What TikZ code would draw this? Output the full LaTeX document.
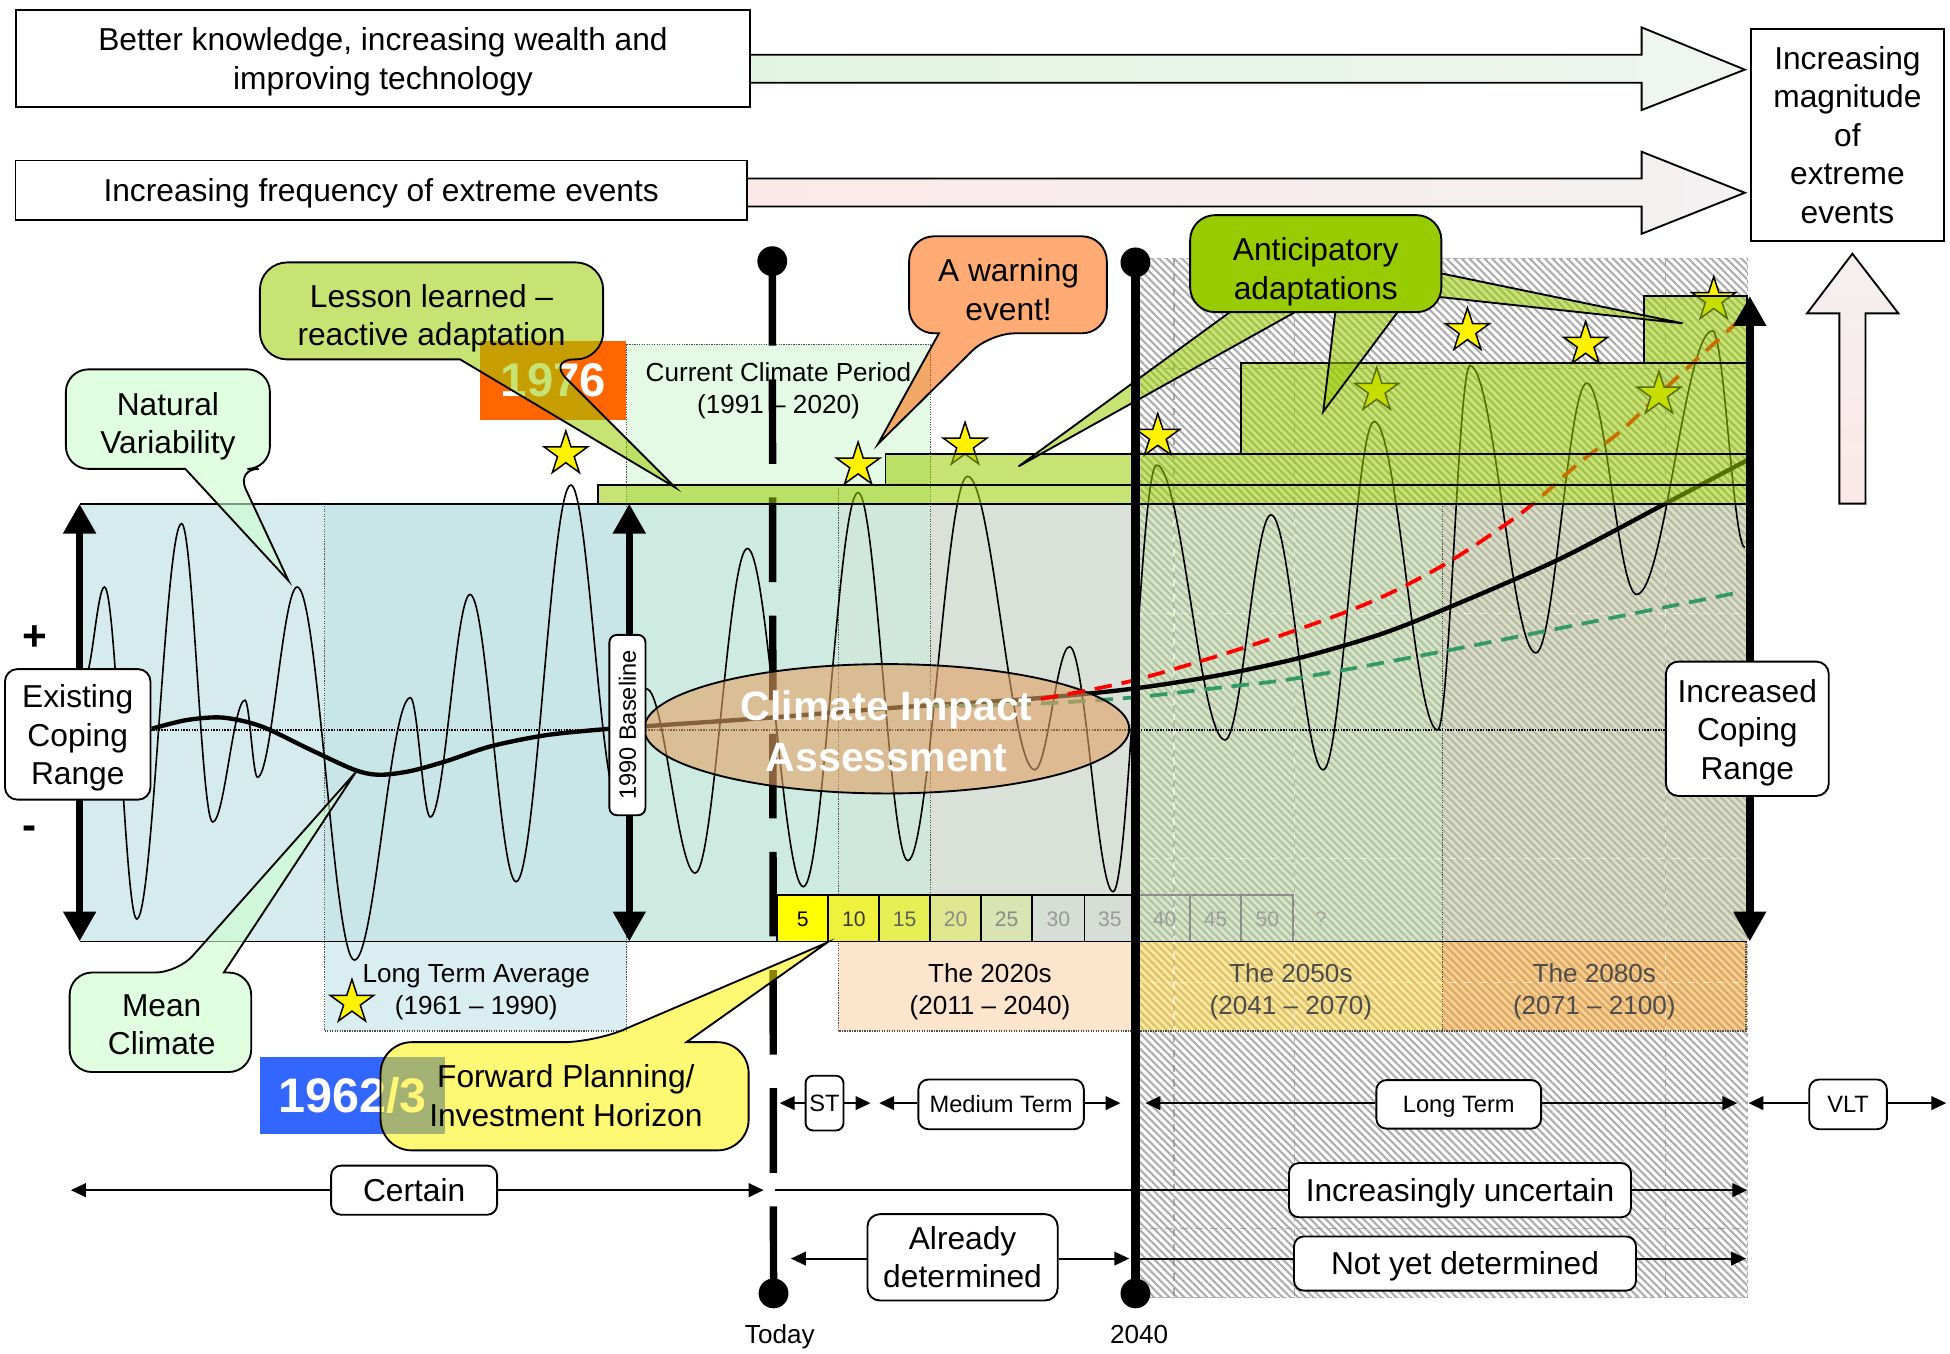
\documentclass[tikz,border=0pt]{standalone}
\usepackage{fontspec}
\setmainfont{Liberation Sans}
\usetikzlibrary{arrows.meta,shapes.geometric,patterns.meta}
\definecolor{grn}{HTML}{99CC00}
\definecolor{lgrn}{HTML}{CCFFCC}
\definecolor{org}{HTML}{FF6600}
\definecolor{blu}{HTML}{3366FF}
\definecolor{chA}{HTML}{D6EBEE}
\definecolor{chB}{HTML}{C8E5E8}
\definecolor{chC}{HTML}{CDEBE1}
\definecolor{chD}{HTML}{D0E8DC}
\definecolor{chE}{HTML}{D9E1D9}
\definecolor{chF}{HTML}{B6D29B}
\definecolor{chG}{HTML}{BCC39B}
\definecolor{cctop}{HTML}{E4FAE4}
\definecolor{ltab}{HTML}{DAEEF1}
\definecolor{cTwenty}{HTML}{FDE4CC}
\definecolor{cFifty}{HTML}{FBD240}
\definecolor{cEighty}{HTML}{F6A42E}
\definecolor{ellc}{HTML}{E1A064}
\definecolor{scgreen}{HTML}{339966}
\definecolor{hatchc}{HTML}{ADADAD}
\definecolor{arrAa}{HTML}{E2F5E2}
\definecolor{arrAb}{HTML}{F0F5F0}
\definecolor{arrBa}{HTML}{FBE9E9}
\definecolor{arrBb}{HTML}{F3F1F1}
\definecolor{upT}{HTML}{F5F0F0}
\definecolor{upB}{HTML}{FBE8E8}
\newcommand\mystrut{\rule[-0.23em]{0pt}{1.18em}}
\newcommand\topstrut{\rule{0pt}{0.95em}}
\tikzset{
  txtstrut/.style={execute at begin node=\mystrut, execute at end node=\mystrut},
  bigtxt/.style={font=\fontsize{25.5}{31}\selectfont, align=center, txtstrut},
  bigml/.style={font=\fontsize{25.5}{31}\selectfont, align=center},
  midml/.style={font=\fontsize{21}{26}\selectfont, align=center},
  midtxt/.style={font=\fontsize{21}{26}\selectfont, align=center, txtstrut},
  smalltxt/.style={font=\fontsize{19}{23}\selectfont, align=center, txtstrut},
  numtxt/.style={font=\fontsize{17}{20}\selectfont, txtstrut},
  sqbox/.style={draw, line width=1.5pt, fill=white, inner sep=0pt},
  lbox/.style={draw, line width=1.5pt, fill=white, rounded corners=10pt, inner sep=0pt},
  tl/.style={line width=1.5pt, -{Triangle[length=12pt,width=11pt]}},
  cbox/.style={draw, line width=1.5pt, fill opacity=0.55},
  adbar/.style={draw, line width=1.5pt, fill=grn, fill opacity=0.55},
  ystar/.style={star, star points=5, star point ratio=2.618, minimum size=37pt, inner sep=0pt, draw, line width=1.2pt, fill=yellow},
  bigarrow/.style={line width=6pt, {Triangle[length=24pt,width=25pt]}-{Triangle[length=24pt,width=25pt]}},
  dotl/.style={densely dotted, line width=1pt, black!70},
  gridl/.style={black!45, dash pattern=on 6pt off 6pt, line width=0.9pt, opacity=0.7},
  gridw/.style={white, dash pattern=on 6pt off 6pt, line width=0.9pt, opacity=0.6},
  ovl/.style={fill opacity=0.55},
  ball/.style={circle, fill=black, minimum size=24pt, inner sep=0pt},
}
\begin{document}
\begin{tikzpicture}[x=1pt,y=-1pt]
\useasboundingbox (0,0) rectangle (1568,1088);

% ---------- region fills (unhatched part)
\fill[cctop] (504,277) rectangle (748,405);
\fill[chA] (64,405) rectangle (261,757);
\fill[chB] (261,405) rectangle (504,757);
\fill[chC] (504,405) rectangle (674,757);
\fill[chD] (674,405) rectangle (748,757);
\fill[chE] (748,405) rectangle (913,757);
\fill[ltab] (261,757) rectangle (504,829);
\fill[cTwenty] (674,757) rectangle (913,829);

% ---------- hatch of the uncertain future
\fill[pattern={Lines[angle=-45,distance=4.3pt,line width=1.7pt]}, pattern color=hatchc] (913,208) rectangle (1405,1043);
\foreach \gx in {944,1041,1339} \draw[gridl] (\gx,208) -- (\gx,1043);
\foreach \gy in {296,988} \draw[gridl] (913,\gy) -- (1405,\gy);
% translucent fills over the hatch
\fill[chF, ovl] (913,405) rectangle (1160,757);
\fill[chG, ovl] (1160,405) rectangle (1405,757);
\fill[cFifty, ovl] (913,757) rectangle (1160,829);
\fill[cEighty, ovl] (1160,757) rectangle (1405,829);
\foreach \gx in {944,1041,1339} \draw[gridw] (\gx,405) -- (\gx,829);
\foreach \gy in {493,690,790} \draw[gridw] (913,\gy) -- (1405,\gy);
\draw[hatchc, dashed, line width=1pt] (913,208) rectangle (1405,1043);

% ---------- period texts
\node[midml] (lta) at (383,795) {\topstrut Long Term Average\\(1961 – 1990)};
\node[midml] (ccp) at (626,312) {\topstrut Current Climate Period\\(1991 – 2020)};
\node[midml] (t20) at (796,795) {\topstrut The 2020s\\(2011 – 2040)};
\node[midml, text=black!70] (t50) at (1038,795) {\topstrut The 2050s\\(2041 – 2070)};
\node[midml, text=black!70] (t80) at (1282,795) {\topstrut The 2080s\\(2071 – 2100)};

% ruler cells in the uncertain zone
\foreach \xa/\xb/\lab in {916/957/40, 957/998/45, 998/1040/50} {
  \draw[line width=1.5pt, draw=black!45] (\xa,720) rectangle (\xb,757);
  \node[numtxt, text=black!38] (n\lab) at ({(\xa+\xb)/2},739) {\lab};
}
\node[numtxt, text=black!35] (nq) at (1062,739) {?};

% ---------- dotted frames
\draw[dotl] (261,405) -- (261,829) -- (504,829);
\draw[dotl] (504,277) -- (504,829);
\draw[dotl] (504,277) -- (748,277) -- (748,757);
\draw[dotl] (674,390) -- (674,829) -- (913,829);
\draw[dotl] (1160,405) -- (1160,829);
\draw[dotl] (913,829) -- (1404,829) -- (1404,757);

% chart borders
\draw[line width=1.5pt] (64,405) -- (1405,405);
\draw[line width=1.5pt] (64,757) -- (1405,757);
\draw[densely dotted, line width=1.2pt] (121,587) -- (1340,587);

% ---------- Today line
\node[ball] (todayTop) at (621,210) {};
\node[ball] (todayBot) at (622,1040) {};
\draw[line width=6pt, dash pattern=on 68pt off 27pt] (todayTop.center) -- (todayBot.center);

% ruler cells
\foreach \xa/\xb/\fc/\tc/\lab in {625/666/FFFF00/000000/5, 666/707/EEF23C/3A3A3A/10, 707/748/E6F055/5E5E5E/15, 748/789/DEE78E/8A8A8A/20, 789/830/D9E4B3/8A8A8A/25, 830/872/D6DED6/999999/30, 872/913/D6DED6/999999/35} {
  \definecolor{cellf}{HTML}{\fc}\definecolor{cellt}{HTML}{\tc}
  \draw[line width=1.5pt, fill=cellf] (\xa,720) rectangle (\xb,757);
  \node[numtxt, text=cellt] (n\lab) at ({(\xa+\xb)/2},739) {\lab};
}

% ---------- natural variability wave
\draw[line width=1.3pt] (68,545)
  \foreach \x/\y [remember=\x as \lx (initially 68)] in {84/472, 110/739, 146/421, 171/661, 197/563, 207/625, 239/472, 285/772, 330/561, 346/657, 378/478, 415/709, 459/390, 497/645, 520/554, 559/702, 601/441, 646/713, 690/396, 730/692, 778/383, 832/619, 860/520, 895/717, 930/374, 985/595, 1022/414, 1064/619, 1105/339, 1156/587, 1182/294, 1235/525, 1276/308, 1316/478, 1377/266, 1403/440}
  { .. controls +({0.36*(\x-\lx)},0) and +({-0.36*(\x-\lx)},0) .. (\x,\y) };

% mean climate curve
\draw[line width=3.5pt] plot[smooth, tension=0.5] coordinates {(122,586) (150,579) (179,577) (210,584) (250,603) (285,619) (305,623) (330,620) (359,612) (395,600) (440,591) (490,586) (518,584) (620,577) (720,569) (827,562) (909,554) (980,543) (1045,529) (1110,510) (1166,488) (1253,450) (1339,405) (1405,370)};
% low scenario
\draw[scgreen, line width=3pt, dash pattern=on 14pt off 8pt] plot[smooth, tension=0.5] coordinates {(749,568) (830,566) (909,561) (980,553) (1045,545) (1159,524) (1280,500) (1400,476)};

% climate impact assessment ellipse
\draw[fill=ellc, fill opacity=0.6, line width=1.5pt] (713,586) ellipse (195 and 52);

% high scenario
\draw[red, line width=3pt, dash pattern=on 14pt off 8pt] plot[smooth, tension=0.5] coordinates {(837,562) (912,547) (1012,517) (1100,485) (1163,453) (1224,412) (1270,372) (1304,346) (1349,303) (1384,271) (1400,256)};

% stars
\node[ystar] (s1) at (455,365) {};
\node[ystar] (s2) at (690,374) {};
\node[ystar] (s3) at (776,358) {};
\node[ystar] (s4) at (931,351) {};
\node[ystar] (s5) at (1107,314) {};
\node[ystar] (s6) at (1180,266) {};
\node[ystar] (s7) at (1275,277) {};
\node[ystar] (s8) at (1334,317) {};
\node[ystar] (s9) at (1378,241) {};
\node[ystar] (s10) at (283,806) {};

% adaptation bars
\path[adbar] (481,390) rectangle (1405,405);
\path[adbar] (712,365) rectangle (1405,390);
\path[adbar] (998,292) rectangle (1405,365);
\path[adbar] (1322,238) rectangle (1405,292);

\node[text=white, font=\fontsize{33}{41}\selectfont\bfseries, align=center] (cia) at (713,588) {Climate Impact\\Assessment};

% ---------- 1976 and lesson learned
\node[fill=org, minimum width=117.5pt, minimum height=63pt, inner sep=0pt, text=white, font=\fontsize{38}{40}\selectfont\bfseries] (y1976) at (445,306) {1976};
\path[cbox, fill=grn] (370,289) [rounded corners=22pt] -- (209,289) -- (209,211) -- (485,211) -- (485,289) -- (440,289) [sharp corners] -- (543,392) -- cycle;
\node[bigml] (lesson) at (347,253) {\topstrut Lesson learned –\\reactive adaptation};

% ---------- 1962/3 and forward planning
\node[fill=blu, minimum width=149pt, minimum height=61.5pt, inner sep=0pt, text=white, font=\fontsize{39}{40}\selectfont\bfseries] (y1962) at (283.5,881) {1962/3};
\path[cbox, fill=yellow] (552,838) [rounded corners=25pt] -- (602,838) -- (602,925) -- (306,925) -- (306,838) -- (478,838) [sharp corners] -- (665,758) -- cycle;
\node[bigml] (fwd) at (455,881) {Forward Planning/\\Investment Horizon};

% ---------- other callouts
\path[cbox, fill=lgrn, fill opacity=0.6] (149,377) [rounded corners=18pt] -- (53,377) -- (53,297) -- (217,297) -- (217,377) -- (190,377) [sharp corners] -- (232,467) -- cycle;
\node[bigml] (natvar) at (135,340) {\topstrut Natural\\Variability};

\path[cbox, fill=lgrn, fill opacity=0.6] (180,782) [rounded corners=18pt] -- (202,782) -- (202,862) -- (56,862) -- (56,782) -- (143,782) [sharp corners] -- (286,621) -- cycle;
\node[bigml] (meanc) at (130,824) {Mean\\Climate};

\path[cbox, fill=org] (755,268) [rounded corners=20pt] -- (731,268) -- (731,190) -- (890,190) -- (890,268) -- (796,268) [sharp corners] -- (706,357) -- cycle;
\node[bigml] (warn) at (811,233) {A warning\\event!};

\path[cbox, fill=grn] (1004,240) -- (1061,240) -- (819,375) -- cycle;
\path[cbox, fill=grn] (1075,240) -- (1132,240) -- (1064,331) -- cycle;
\path[cbox, fill=grn] (1150,218) -- (1150,238) -- (1353,260) -- cycle;
\node[draw, line width=1.5pt, fill=grn, rounded corners=20pt, minimum width=202pt, minimum height=78pt, inner sep=0pt] (antic) at (1058,212) {};
\node[bigml] (antict) at (1058,215.5) {\topstrut Anticipatory\\adaptations};

% ---------- 2040 line
\node[ball] (y40Top) at (913,211) {};
\node[ball] (y40Bot) at (913,1040) {};
\draw[line width=7pt] (y40Top.center) -- (y40Bot.center);

% ---------- coping range arrows
\draw[bigarrow] (64,405) -- (64,757);
\draw[bigarrow] (506,405) -- (506,757);
\draw[bigarrow] (1407,238) -- (1407,757);
\node[lbox, minimum width=117pt, minimum height=105pt, bigml] (ecr) at (62.5,590.5) {\topstrut Existing\\Coping\\Range};
\node[lbox, minimum width=131pt, minimum height=108pt, bigml] (icr) at (1405,586) {\topstrut Increased\\Coping\\Range};
\node[lbox, rounded corners=6pt, rotate=90, minimum width=145pt, minimum height=29pt, smalltxt] (base) at (504.5,583) {1990 Baseline};
\node[font=\fontsize{34}{36}\selectfont\bfseries] (plus) at (28,513) {+};
\node[font=\fontsize{34}{36}\selectfont\bfseries] (minus) at (24,670) {-};

% ---------- time horizon rows
\node[lbox, rounded corners=6pt, minimum width=30.5pt, minimum height=44pt, smalltxt] (st) at (663,887) {ST};
\node[lbox, rounded corners=8pt, minimum width=133pt, minimum height=40pt, smalltxt] (mt) at (805,888) {Medium Term};
\node[lbox, rounded corners=8pt, minimum width=132.5pt, minimum height=39pt, smalltxt] (lt) at (1173,888) {Long Term};
\node[lbox, rounded corners=8pt, minimum width=62.5pt, minimum height=40pt, smalltxt] (vlt) at (1486,888) {VLT};
\coordinate (stL) at (627,887); \coordinate (stR) at (700,887);
\coordinate (mtL) at (707,887); \coordinate (mtR) at (901,887);
\coordinate (ltL) at (921,887); \coordinate (ltR) at (1397,887);
\coordinate (vlL) at (1406,887); \coordinate (vlR) at (1565,887);
\draw[tl] (st.west |- stL) -- (stL); \draw[tl] (st.east |- stR) -- (stR);
\draw[tl] (mt.west |- mtL) -- (mtL); \draw[tl] (mt.east |- mtR) -- (mtR);
\draw[tl] (lt.west |- ltL) -- (ltL); \draw[tl] (lt.east |- ltR) -- (ltR);
\draw[tl] (vlt.west |- vlL) -- (vlL); \draw[tl] (vlt.east |- vlR) -- (vlR);

\node[lbox, rounded corners=8pt, minimum width=133.5pt, minimum height=39.5pt, bigtxt] (cert) at (333,957) {Certain};
\node[lbox, rounded corners=8pt, minimum width=275pt, minimum height=43.6pt, bigtxt] (unc) at (1174,957) {Increasingly uncertain};
\coordinate (ceL) at (57,957); \coordinate (ceR) at (614,957);
\coordinate (unL) at (623,957); \coordinate (unR) at (1405,957);
\draw[tl] (cert) -- (ceL); \draw[tl] (cert) -- (ceR);
\draw[line width=1.5pt] (unL) -- (unc.west);
\draw[tl] (unc) -- (unR);

\node[lbox, rounded corners=10pt, minimum width=153pt, minimum height=69.4pt, bigml] (alr) at (774,1011) {Already\\determined};
\node[lbox, rounded corners=8pt, minimum width=275pt, minimum height=43.6pt, bigtxt] (nyd) at (1178,1016) {Not yet determined};
\coordinate (alL) at (636,1012); \coordinate (alR) at (908,1012);
\coordinate (nyL) at (917,1012); \coordinate (nyR) at (1404,1012);
\draw[tl] (alr.west |- alL) -- (alL); \draw[tl] (alr.east |- alR) -- (alR);
\draw[line width=1.5pt] (nyL) -- (nyd.west |- nyL);
\draw[tl] (nyd.east |- nyR) -- (nyR);

\node[midtxt] (today) at (627,1073) {Today};
\node[midtxt] (y2040) at (916,1073) {2040};

% ---------- top arrows and boxes
\draw[line width=1.5pt, left color=arrAa, right color=arrAb] (600,44) -- (1320,44) -- (1320,22) -- (1403,56) -- (1320,88.5) -- (1320,66.5) -- (600,66.5) -- cycle;
\draw[line width=1.5pt, left color=arrBa, right color=arrBb] (597,143.5) -- (1320,143.5) -- (1320,122) -- (1403,155) -- (1320,188) -- (1320,166) -- (597,166) -- cycle;
\draw[line width=1.5pt, top color=upT, bottom color=upB] (1479,405) -- (1479,252) -- (1453,252) -- (1489.5,204) -- (1526.5,252) -- (1500,252) -- (1500,405) -- cycle;
\node[sqbox, minimum width=590pt, minimum height=78pt, bigml] (tb1) at (308,47) {\topstrut Better knowledge, increasing wealth and\\improving technology};
\node[sqbox, minimum width=588pt, minimum height=48pt, bigtxt] (tb2) at (306.5,153) {Increasing frequency of extreme events};
\node[sqbox, minimum width=155pt, minimum height=171pt, bigml] (tb3) at (1485.5,108.5) {Increasing\\magnitude\\of\\extreme\\events};
\end{tikzpicture}
\end{document}
